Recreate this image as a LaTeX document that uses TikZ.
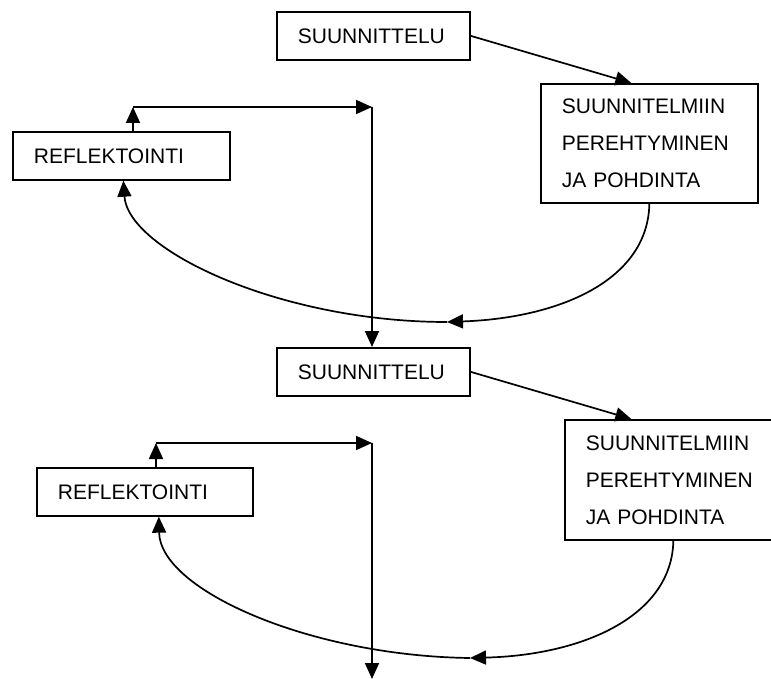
\documentclass[tikz,border=0pt]{standalone}
\usepackage{fontspec}
\setmainfont{Liberation Sans}
\usetikzlibrary{arrows.meta,calc}
\begin{document}
\begin{tikzpicture}[x=1pt,y=-1pt,
  box/.style={draw,line width=1.7pt,rectangle,anchor=north west,inner xsep=21pt,inner ysep=0pt,
    align=left,font=\fontsize{21}{37}\selectfont},
  conn/.style={line width=1.7pt,-{Triangle[length=16pt,width=14pt]}}]
\useasboundingbox (0,0) rectangle (771,679);
\clip (0,0) rectangle (771,679);
% section 1
\node[box,minimum width=193pt,minimum height=48pt,text width=151pt] (s1) at (276,11) {SUUNNITTELU};
\node[box,minimum width=217pt,minimum height=119pt,text width=175pt] (p1) at (540,83) {SUUNNITELMIIN\\PEREHTYMINEN\\JA POHDINTA};
\node[box,minimum width=217pt,minimum height=48pt,text width=175pt] (r1) at (12,131) {REFLEKTOINTI};
% section 2
\node[box,minimum width=193pt,minimum height=48pt,text width=151pt] (s2) at (276,347) {SUUNNITTELU};
\node[box,minimum width=217pt,minimum height=120pt,text width=175pt] (p2) at (564,419) {SUUNNITELMIIN\\PEREHTYMINEN\\JA POHDINTA};
\node[box,minimum width=216pt,minimum height=48pt,text width=174pt] (r2) at (36,467) {REFLEKTOINTI};
% coordinates
\coordinate (t1) at (133,107);
\coordinate (c1) at (372,107);
\coordinate (m1) at (447,322);
\coordinate (t2) at (156,443);
\coordinate (c2) at (372,443);
\coordinate (e2) at (372,679);
\coordinate (m2) at (470,658);
% connectors section 1
\draw[conn] (s1.east) -- ([xshift=-18pt]p1.north);
\draw[conn] (p1.south) .. controls (648,280) and (560,318) .. (m1);
\draw[conn] (m1) .. controls (280,322) and (128,250) .. ([xshift=2pt]r1.south);
\draw[conn] (r1.north -| t1) -- (t1);
\draw[conn] (t1) -- (c1);
\draw[conn] (c1) -- (s2.north -| c1);
% connectors section 2
\draw[conn] (s2.east) -- ([xshift=-42pt]p2.north);
\draw[conn] (p2.south) .. controls (672,615) and (585,655) .. (m2);
\draw[conn] (m2) .. controls (310,656) and (160,590) .. ([xshift=14pt]r2.south);
\draw[conn] (r2.north -| t2) -- (t2);
\draw[conn] (t2) -- (c2);
\draw[conn] (c2) -- (e2);
\end{tikzpicture}
\end{document}
